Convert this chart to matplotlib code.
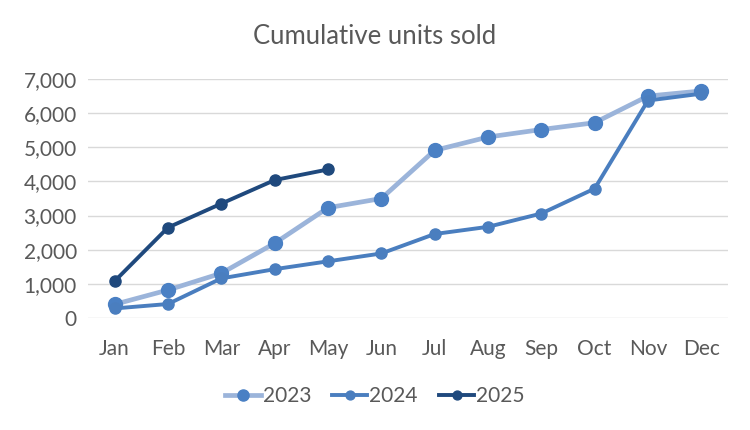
import matplotlib
matplotlib.use("Agg")
import matplotlib.pyplot as plt

# Data
months = ["Jan", "Feb", "Mar", "Apr", "May", "Jun",
          "Jul", "Aug", "Sep", "Oct", "Nov", "Dec"]
units_2023 = [400, 820, 1310, 2190, 3230, 3500, 4910, 5300, 5520, 5720, 6500, 6650]
units_2024 = [280, 410, 1160, 1430, 1660, 1890, 2460, 2670, 3060, 3790, 6370, 6570]
units_2025 = [1080, 2650, 3350, 4040, 4350]
y_ticks = [0, 1000, 2000, 3000, 4000, 5000, 6000, 7000]

plt.rcParams["font.family"] = ["Lato", "DejaVu Sans"]
TEXT = "#595959"

fig = plt.figure(figsize=(7.5, 4.3), dpi=100)
ax = fig.add_axes([88 / 750, 1 - 318 / 430, 640 / 750, 239 / 430])

x = list(range(len(months)))
ax.plot(x, units_2023, "-o", color="#9BB4DA", lw=3.4, ms=10,
        mfc="#4A80C4", mec="#4A80C4", label="2023", zorder=3)
ax.plot(x, units_2024, "-o", color="#4A7EBF", lw=2.8, ms=8,
        mfc="#4A7EBF", mec="#4A7EBF", label="2024", zorder=4)
ax.plot(x[:len(units_2025)], units_2025, "-o", color="#1F497D", lw=2.8, ms=8,
        mfc="#1F497D", mec="#1F497D", label="2025", zorder=5)

ax.set_xlim(-0.5, len(months) - 0.5)
ax.set_ylim(0, 7000)
ax.set_yticks(y_ticks)
ax.set_yticklabels([f"{v:,}" for v in y_ticks])
ax.set_xticks(x)
ax.set_xticklabels(months)
ax.tick_params(axis="both", length=0, labelsize=15, colors=TEXT)
ax.tick_params(axis="x", pad=15)
ax.tick_params(axis="y", pad=8)
ax.grid(axis="y", color="#D9D9D9", lw=1)
ax.set_axisbelow(True)
for s in ax.spines.values():
    s.set_visible(False)

fig.suptitle("Cumulative units sold", y=0.945, fontsize=18.5, color=TEXT)
fig.legend(loc="center", bbox_to_anchor=(0.5, 0.078), ncol=3, frameon=False,
           fontsize=15, labelcolor=TEXT, handlelength=1.7, handletextpad=0.1,
           columnspacing=1.0, markerscale=0.8)

fig.savefig("out.png", dpi=100)
